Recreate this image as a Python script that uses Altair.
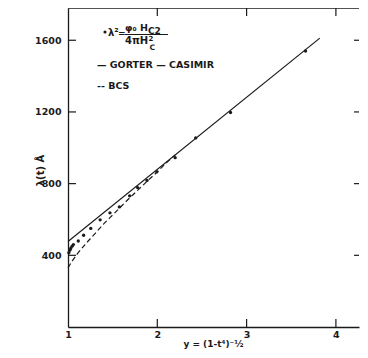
import altair as alt
import pandas as pd

# Gorter-Casimir (solid straight line)
gc_x = [1.0, 3.82]
gc_y = [477, 1612]

# BCS (dashed curve, merges into the solid line)
bcs_x = [1.0, 1.05, 1.1, 1.2, 1.3, 1.4, 1.5, 1.6, 1.7, 1.8, 1.9, 2.0, 2.1, 2.2]
bcs_y = [330, 370, 405, 465, 520, 575, 625, 675, 725, 772, 820, 866, 915, 960]

# measured points lambda^2 = phi0 Hc2 / 4 pi Hc^2
pt_x = [1.01, 1.02, 1.03, 1.045, 1.06, 1.115, 1.175, 1.255, 1.36, 1.47, 1.575,
        1.69, 1.78, 1.885, 1.995, 2.2, 2.43, 2.82, 3.66]
pt_y = [415, 428, 438, 450, 460, 480, 512, 550, 598, 637, 670,
        732, 778, 818, 866, 945, 1055, 1197, 1540]

x_ticks = [1, 2, 3, 4]
y_ticks = [400, 800, 1200, 1600]
inner_x_ticks = [2, 3, 4]

x_title = "y = (1-t⁴)⁻½"
y_title = "λ(t) Å"
legend_gc = "— GORTER — CASIMIR"
legend_bcs = "-- BCS"

W, H = 291, 319
INK = "#1a1a1a"
FONT = "DejaVu Sans"

xs = alt.Scale(domain=[1, 1 + W / 89.3], nice=False, zero=False)
ys = alt.Scale(domain=[0, 1780], nice=False, zero=False)

xaxis = alt.Axis(values=x_ticks, format="d", ticks=False, grid=False,
                 labelPadding=2, labelFont=FONT, labelFontWeight="bold",
                 labelFontSize=9.5, labelColor=INK, domainColor=INK, domainWidth=1.3,
                 title=x_title, titleFont=FONT, titleFontSize=9, titleFontWeight="bold",
                 titleColor=INK, titleX=145, titleY=16.5, titleBaseline="middle",
                 titleAlign="center", labelFlush=False)
yaxis = alt.Axis(values=y_ticks, format="d", ticks=False, grid=False,
                 labelPadding=7, labelFont=FONT, labelFontWeight="bold",
                 labelFontSize=9.5, labelColor=INK, domainColor=INK, domainWidth=1.3,
                 title=y_title, titleFont=FONT, titleFontSize=10, titleFontWeight="bold",
                 titleColor=INK, titleAngle=270, titleX=-28, titleY=162,
                 titleAlign="center", titleBaseline="middle", labelFlush=False)

X = alt.X("x:Q", scale=xs, axis=xaxis)
Y = alt.Y("y:Q", scale=ys, axis=yaxis)

gc = alt.Chart(pd.DataFrame({"x": gc_x, "y": gc_y})).mark_line(
    color=INK, strokeWidth=1.2).encode(x=X, y=Y)

bcs = alt.Chart(pd.DataFrame({"x": bcs_x, "y": bcs_y})).mark_line(
    color=INK, strokeWidth=1.2, strokeDash=[5, 3], interpolate="monotone").encode(x=X, y=Y)

pts = alt.Chart(pd.DataFrame({"x": pt_x, "y": pt_y})).mark_circle(
    color=INK, size=11, opacity=1).encode(x=X, y=Y)

# inward tick marks
yt = pd.DataFrame({"y": y_ticks})
xt = pd.DataFrame({"x": inner_x_ticks})
left_ticks = alt.Chart(yt).mark_rule(color=INK, strokeWidth=1.2).encode(
    y=Y, x=alt.value(1), x2=alt.value(8))
right_ticks = alt.Chart(yt).mark_rule(color=INK, strokeWidth=1.2).encode(
    y=Y, x=alt.value(W - 5), x2=alt.value(W))
top_ticks = alt.Chart(xt).mark_rule(color=INK, strokeWidth=1.2).encode(
    x=X, y=alt.value(0), y2=alt.value(8))
bottom_ticks = alt.Chart(xt).mark_rule(color=INK, strokeWidth=1.2).encode(
    x=X, y=alt.value(H - 8), y2=alt.value(H))

top_line = alt.Chart(pd.DataFrame({"a": [0]})).mark_rule(color=INK, strokeWidth=1.3).encode(
    x=alt.value(0), x2=alt.value(W), y=alt.value(0))

# legend / formula annotation
one = pd.DataFrame({"a": [0]})
def txt(s, px, py, size=9, align="left", weight="bold"):
    return alt.Chart(one).mark_text(text=s, font=FONT, fontSize=size, fontWeight=weight,
                                    align=align, baseline="middle", color=INK).encode(
        x=alt.value(px), y=alt.value(py))

leg_dot = alt.Chart(one).mark_circle(color=INK, size=10, opacity=1).encode(
    x=alt.value(37), y=alt.value(24))
frac_bar = alt.Chart(one).mark_rule(color=INK, strokeWidth=1).encode(
    x=alt.value(57), x2=alt.value(100), y=alt.value(26.5))

annots = [
    leg_dot,
    txt("λ²", 40, 24.5, 10),
    txt("=", 50, 24.5, 9),
    txt("φ₀ H", 57, 19.5, 9.5),
    txt("C2", 80, 22.5, 9),
    frac_bar,
    txt("4πH", 57, 33, 10),
    txt("2", 80.5, 30.5, 7),
    txt("C", 81.5, 39.5, 7.5),
    txt(legend_gc, 29, 57, 9.5),
    txt(legend_bcs, 29, 78, 9.5),
]

chart = alt.layer(gc, bcs, pts, left_ticks, right_ticks, top_ticks, bottom_ticks,
                  top_line, *annots).properties(
    width=W, height=H,
    autosize=alt.AutoSizeParams(type="none"),
    padding={"left": 60, "top": 0, "right": 1, "bottom": 23},
    background="white",
).configure_view(stroke=None)

chart.save("out.html", embed_options={"renderer": "svg", "actions": False})
